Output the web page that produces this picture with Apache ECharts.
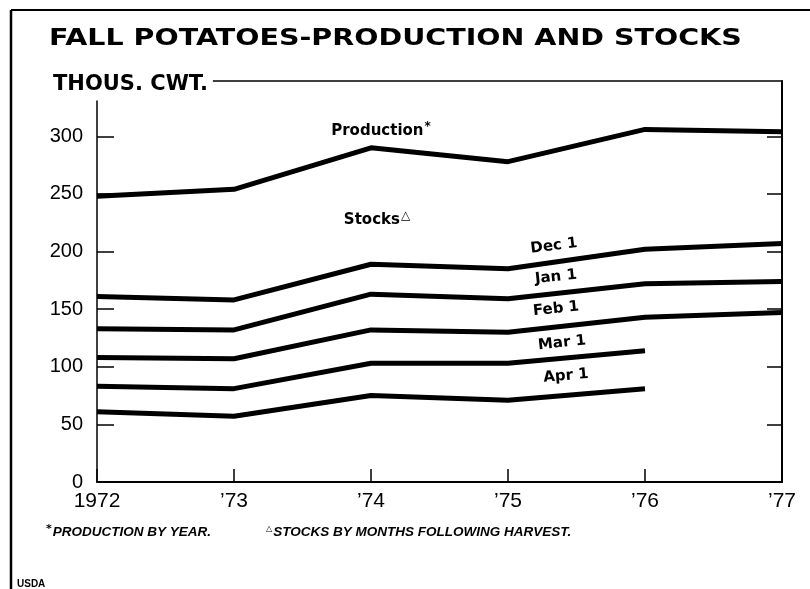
<!DOCTYPE html>
<html>
<head>
<meta charset="utf-8">
<script src="https://cdn.jsdelivr.net/npm/echarts@6/dist/echarts.min.js"></script>
<style>
  html, body { margin: 0; padding: 0; background: #fff; }
  #chart { width: 810px; height: 589px; }
</style>
</head>
<body>
<div id="chart"></div>
<script>
// values, thousand cwt
var years = [1972, 1973, 1974, 1975, 1976, 1977];
var yearLabels = ['1972', '\u201973', '\u201974', '\u201975', '\u201976', '\u201977'];
var yTicks = [0, 50, 100, 150, 200, 250, 300];

var production = [248, 254, 290, 278, 306, 304];
var dec1 = [161, 158, 189, 185, 202, 207];
var jan1 = [133, 132, 163, 159, 172, 174];
var feb1 = [108, 107, 132, 130, 143, 147];
var mar1 = [83, 81, 103, 103, 114];
var apr1 = [61, 57, 75, 71, 81];

var seriesNames = ['Production', 'Dec 1', 'Jan 1', 'Feb 1', 'Mar 1', 'Apr 1'];
var seriesValues = [production, dec1, jan1, feb1, mar1, apr1];

function pairs(vals) {
  return vals.map(function (v, i) { return [years[i], v]; });
}

var lineSeries = seriesValues.map(function (vals, i) {
  return {
    name: seriesNames[i],
    type: 'line',
    data: pairs(vals),
    symbol: 'none',
    lineStyle: { color: '#000', width: 5, cap: 'butt', join: 'round' },
    animation: false
  };
});

function label(text, x, y, deg) {
  return {
    type: 'text',
    x: x, y: y,
    rotation: (deg || 0) * Math.PI / 180,
    z: 100,
    style: {
      text: text,
      fill: '#000',
      font: 'bold 15px "DejaVu Sans"',
      align: 'center', verticalAlign: 'middle',
      textAlign: 'center', textVerticalAlign: 'middle',
      rich: {
        sup: { font: 'bold 12px "DejaVu Sans"', padding: [0, 0, 9, 1], fill: '#000' }
      }
    }
  };
}

var myChart = echarts.init(document.getElementById('chart'));
var option = {
  backgroundColor: '#fff',
  animation: false,
  grid: { left: 97, right: 28, top: 81, bottom: 107 },
  xAxis: [{
    type: 'value',
    min: 1972, max: 1977, interval: 1,
    splitLine: { show: false },
    axisLine: { show: true, onZero: false, lineStyle: { color: '#000', width: 2 } },
    axisTick: { show: true, inside: true, length: 13, lineStyle: { color: '#000', width: 1.5 } },
    axisLabel: {
      color: '#000', fontFamily: 'Liberation Sans', fontSize: 21, margin: 9,
      formatter: function (v) { return yearLabels[years.indexOf(v)]; }
    }
  }, {
    type: 'value', position: 'top',
    min: 1972, max: 1977,
    splitLine: { show: false },
    axisLine: { show: true, onZero: false, lineStyle: { color: '#000', width: 1.5 } },
    axisTick: { show: false },
    axisLabel: { show: false }
  }],
  yAxis: [{
    type: 'value',
    min: 0, max: 348,
    splitLine: { show: false },
    axisLine: { show: true, onZero: false, lineStyle: { color: '#000', width: 1.5 } },
    axisTick: { show: true, inside: true, length: 17, customValues: yTicks, lineStyle: { color: '#000', width: 1.5 } },
    axisLabel: { color: '#000', fontFamily: 'Liberation Sans', fontSize: 20, margin: 14, customValues: yTicks }
  }, {
    type: 'value', position: 'right',
    min: 0, max: 348,
    splitLine: { show: false },
    axisLine: { show: true, onZero: false, lineStyle: { color: '#000', width: 2 } },
    axisTick: { show: true, inside: true, length: 15, customValues: yTicks, lineStyle: { color: '#000', width: 1.5 } },
    axisLabel: { show: false }
  }],
  series: lineSeries,
  graphic: [
    // outer frame of the page
    { type: 'line', shape: { x1: 11, y1: 10, x2: 810, y2: 10 }, style: { stroke: '#000', lineWidth: 2 } },
    { type: 'line', shape: { x1: 11, y1: 10, x2: 11, y2: 589 }, style: { stroke: '#000', lineWidth: 2.5 } },
    {
      type: 'text', x: 49, y: 39, scaleX: 1.24, z: 100,
      style: {
        text: 'FALL POTATOES-PRODUCTION AND STOCKS',
        font: 'bold 23px "DejaVu Sans"', fill: '#000',
        align: 'left', verticalAlign: 'middle', textAlign: 'left', textVerticalAlign: 'middle'
      }
    },
    {
      type: 'text', x: 49, y: 85, z: 100,
      style: {
        text: 'THOUS. CWT.',
        font: 'bold 21px "DejaVu Sans"', fill: '#000',
        align: 'left', verticalAlign: 'middle', textAlign: 'left', textVerticalAlign: 'middle',
        backgroundColor: '#fff', padding: [6, 5, 4, 4]
      }
    },
    label('Production{sup|*}', 381, 131, 0),
    label('Stocks{sup|\u25B3}', 377, 220, 0),
    label('Dec 1', 554, 246, 7),
    label('Jan 1', 556, 277, 6),
    label('Feb 1', 556, 309, 6),
    label('Mar 1', 562, 343, 6),
    label('Apr 1', 566, 376, 5),
    {
      type: 'text', x: 46, y: 532, z: 100,
      style: {
        text: '{m|*}PRODUCTION BY YEAR.',
        font: 'italic bold 13.5px "Liberation Sans"', fill: '#000',
        align: 'left', verticalAlign: 'middle', textAlign: 'left', textVerticalAlign: 'middle',
        rich: { m: { font: 'bold 11px "DejaVu Sans"', padding: [0, 1, 6, 0] } }
      }
    },
    {
      type: 'text', x: 266, y: 532, z: 100,
      style: {
        text: '{m|\u25B3}STOCKS BY MONTHS FOLLOWING HARVEST.',
        font: 'italic bold 13.5px "Liberation Sans"', fill: '#000',
        align: 'left', verticalAlign: 'middle', textAlign: 'left', textVerticalAlign: 'middle',
        rich: { m: { font: 'bold 8px "DejaVu Sans"', padding: [0, 1, 7, 0] } }
      }
    },
    {
      type: 'text', x: 17, y: 584, z: 100,
      style: {
        text: 'USDA', font: 'bold 10px "Liberation Sans"', fill: '#000',
        align: 'left', verticalAlign: 'middle', textAlign: 'left', textVerticalAlign: 'middle'
      }
    }
  ]
};
myChart.setOption(option);
</script>
</body>
</html>
